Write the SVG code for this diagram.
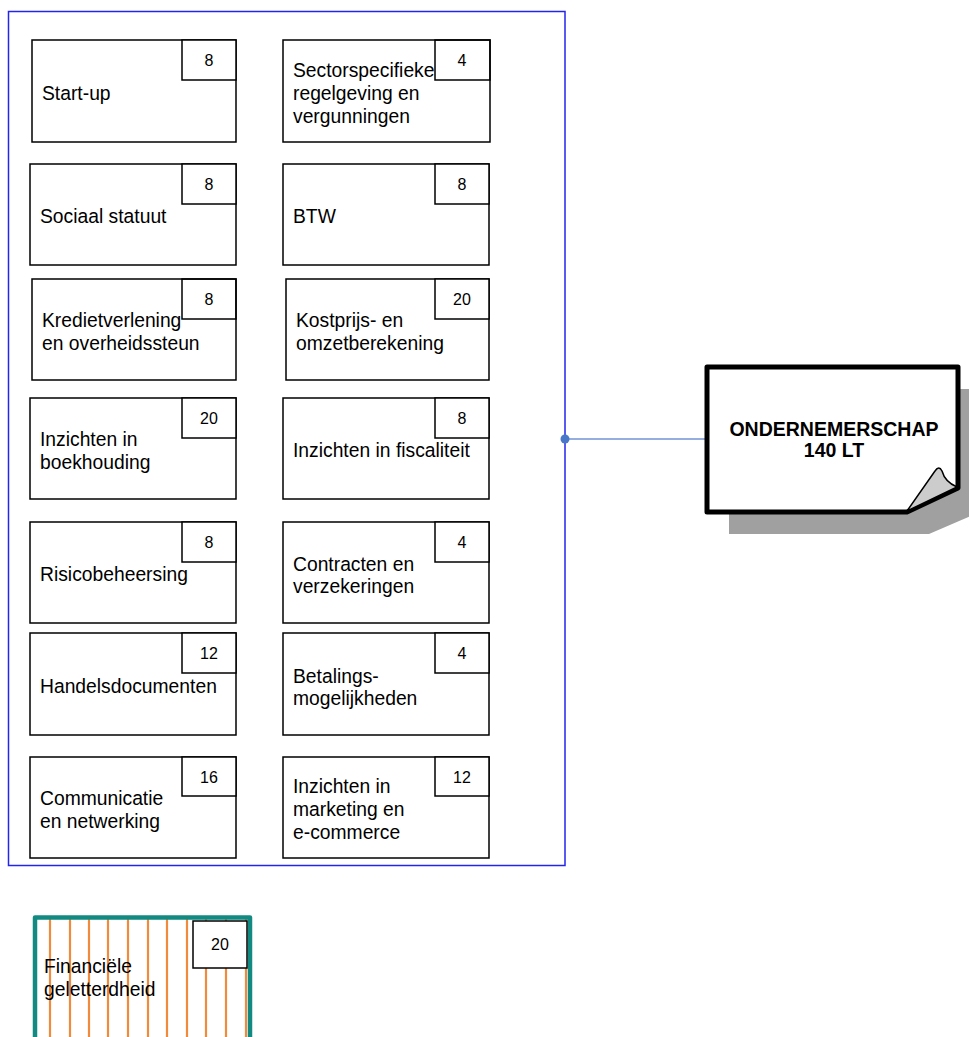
<svg xmlns="http://www.w3.org/2000/svg" width="969" height="1037" viewBox="0 0 969 1037">
<style>
.box{fill:#fff;stroke:#000;stroke-width:1.5}
.num{fill:#fff;stroke:#000;stroke-width:1.5}
.t{font-family:"Liberation Sans",Arial,sans-serif;font-size:19.3px;fill:#000}
.n{font-family:"Liberation Sans",Arial,sans-serif;font-size:16px;fill:#000;text-anchor:middle}
.b{font-family:"Liberation Sans",Arial,sans-serif;font-size:19.5px;font-weight:bold;fill:#000;text-anchor:middle}
.stripe{stroke:#f08a3c;stroke-width:2.2}
</style>
<rect x="0" y="0" width="969" height="1037" fill="#fff"/>
<g id="frame">
<rect x="8.5" y="11.5" width="556.5" height="854" fill="none" stroke="#2424f0" stroke-width="1.5"/>
</g>
<g id="connectors">
<line x1="565" y1="439" x2="707" y2="439" stroke="#7393d4" stroke-width="1.5"/>
<circle cx="565" cy="439" r="4.5" fill="#4a78c8"/>
</g>
<g id="n1"><rect class="box" x="32" y="40" width="204" height="102"/><rect class="num" x="182" y="40" width="54" height="40"/><text class="n" x="209" y="66">8</text><text class="t" x="42" y="100">Start-up</text></g>
<g id="n2"><rect class="box" x="283" y="40" width="207" height="102"/><rect class="num" x="435" y="40" width="55" height="40" style="fill:none"/><text class="t" x="293" y="77">Sectorspecifieke</text><text class="t" x="293" y="100">regelgeving en</text><text class="t" x="293" y="123">vergunningen</text><text class="n" x="462" y="66">4</text></g>
<g id="n3"><rect class="box" x="30" y="164" width="206" height="101"/><rect class="num" x="182" y="164" width="54" height="40"/><text class="n" x="209" y="190">8</text><text class="t" x="40" y="223">Sociaal statuut</text></g>
<g id="n4"><rect class="box" x="283" y="164" width="206" height="101"/><rect class="num" x="435" y="164" width="54" height="40"/><text class="n" x="462" y="190">8</text><text class="t" x="293" y="223">BTW</text></g>
<g id="n5"><rect class="box" x="32" y="279" width="204" height="101"/><text class="t" x="42" y="327">Kredietverlening</text><text class="t" x="42" y="350">en overheidssteun</text><rect class="num" x="182" y="279" width="54" height="40" style="fill:none"/><text class="n" x="209" y="305">8</text></g>
<g id="n6"><rect class="box" x="286" y="279" width="203" height="101"/><rect class="num" x="435" y="279" width="54" height="40"/><text class="n" x="462" y="305">20</text><text class="t" x="296" y="327">Kostprijs- en</text><text class="t" x="296" y="350">omzetberekening</text></g>
<g id="n7"><rect class="box" x="30" y="398" width="206" height="101"/><rect class="num" x="182" y="398" width="54" height="40"/><text class="n" x="209" y="424">20</text><text class="t" x="40" y="446">Inzichten in</text><text class="t" x="40" y="469">boekhouding</text></g>
<g id="n8"><rect class="box" x="283" y="398" width="206" height="101"/><rect class="num" x="435" y="398" width="54" height="40"/><text class="n" x="462" y="424">8</text><text class="t" x="293" y="457">Inzichten in fiscaliteit</text></g>
<g id="n9"><rect class="box" x="30" y="522" width="206" height="101"/><rect class="num" x="182" y="522" width="54" height="40"/><text class="n" x="209" y="548">8</text><text class="t" x="40" y="581">Risicobeheersing</text></g>
<g id="n10"><rect class="box" x="283" y="522" width="206" height="101"/><rect class="num" x="435" y="522" width="54" height="40"/><text class="n" x="462" y="548">4</text><text class="t" x="293" y="571">Contracten en</text><text class="t" x="293" y="593">verzekeringen</text></g>
<g id="n11"><rect class="box" x="30" y="633" width="206" height="102"/><rect class="num" x="182" y="633" width="54" height="40"/><text class="n" x="209" y="659">12</text><text class="t" x="40" y="693">Handelsdocumenten</text></g>
<g id="n12"><rect class="box" x="283" y="633" width="206" height="102"/><rect class="num" x="435" y="633" width="54" height="40"/><text class="n" x="462" y="659">4</text><text class="t" x="293" y="683">Betalings-</text><text class="t" x="293" y="705">mogelijkheden</text></g>
<g id="n13"><rect class="box" x="30" y="757" width="206" height="101"/><rect class="num" x="182" y="757" width="54" height="39"/><text class="n" x="209" y="783">16</text><text class="t" x="40" y="805">Communicatie</text><text class="t" x="40" y="828">en netwerking</text></g>
<g id="n14"><rect class="box" x="283" y="757" width="206" height="101"/><rect class="num" x="435" y="757" width="54" height="39"/><text class="n" x="462" y="783">12</text><text class="t" x="293" y="793">Inzichten in</text><text class="t" x="293" y="816">marketing en</text><text class="t" x="293" y="839">e-commerce</text></g>
<g id="note">
<path d="M729,389 H985 V510 L929,534 H729 Z" fill="#a0a0a0"/>
<path d="M707,367 H958 V488 L907,512 H707 Z" fill="#fff" stroke="#000" stroke-width="5" stroke-linejoin="round"/>
<path d="M907,511 L935,471 Q939,465 942,471 Q945,482 957,487 Z" fill="#cccccc" stroke="#000" stroke-width="1.5" stroke-linejoin="round"/>
<text class="b" x="834" y="436">ONDERNEMERSCHAP</text>
<text class="b" x="834" y="457">140 LT</text>
</g>
<g id="n15">
<rect x="35" y="917.5" width="215" height="140" fill="#fff"/>
<g class="stripe">
<line x1="50" y1="919" x2="50" y2="1037"/><line x1="70" y1="919" x2="70" y2="1037"/><line x1="89" y1="919" x2="89" y2="1037"/><line x1="108" y1="919" x2="108" y2="1037"/><line x1="128" y1="919" x2="128" y2="1037"/><line x1="148" y1="919" x2="148" y2="1037"/><line x1="167" y1="919" x2="167" y2="1037"/><line x1="187" y1="919" x2="187" y2="1037"/><line x1="206" y1="919" x2="206" y2="1037"/><line x1="226" y1="919" x2="226" y2="1037"/><line x1="246" y1="919" x2="246" y2="1037"/>
</g>
<rect x="35" y="917.5" width="215" height="140" fill="none" stroke="#128a82" stroke-width="4.5" stroke-linejoin="round"/>
<rect class="num" x="193" y="921" width="54" height="47"/>
<text class="n" x="220" y="950">20</text>
<text class="t" x="44" y="973">Financiële</text>
<text class="t" x="44" y="996">geletterdheid</text>
</g>
</svg>
